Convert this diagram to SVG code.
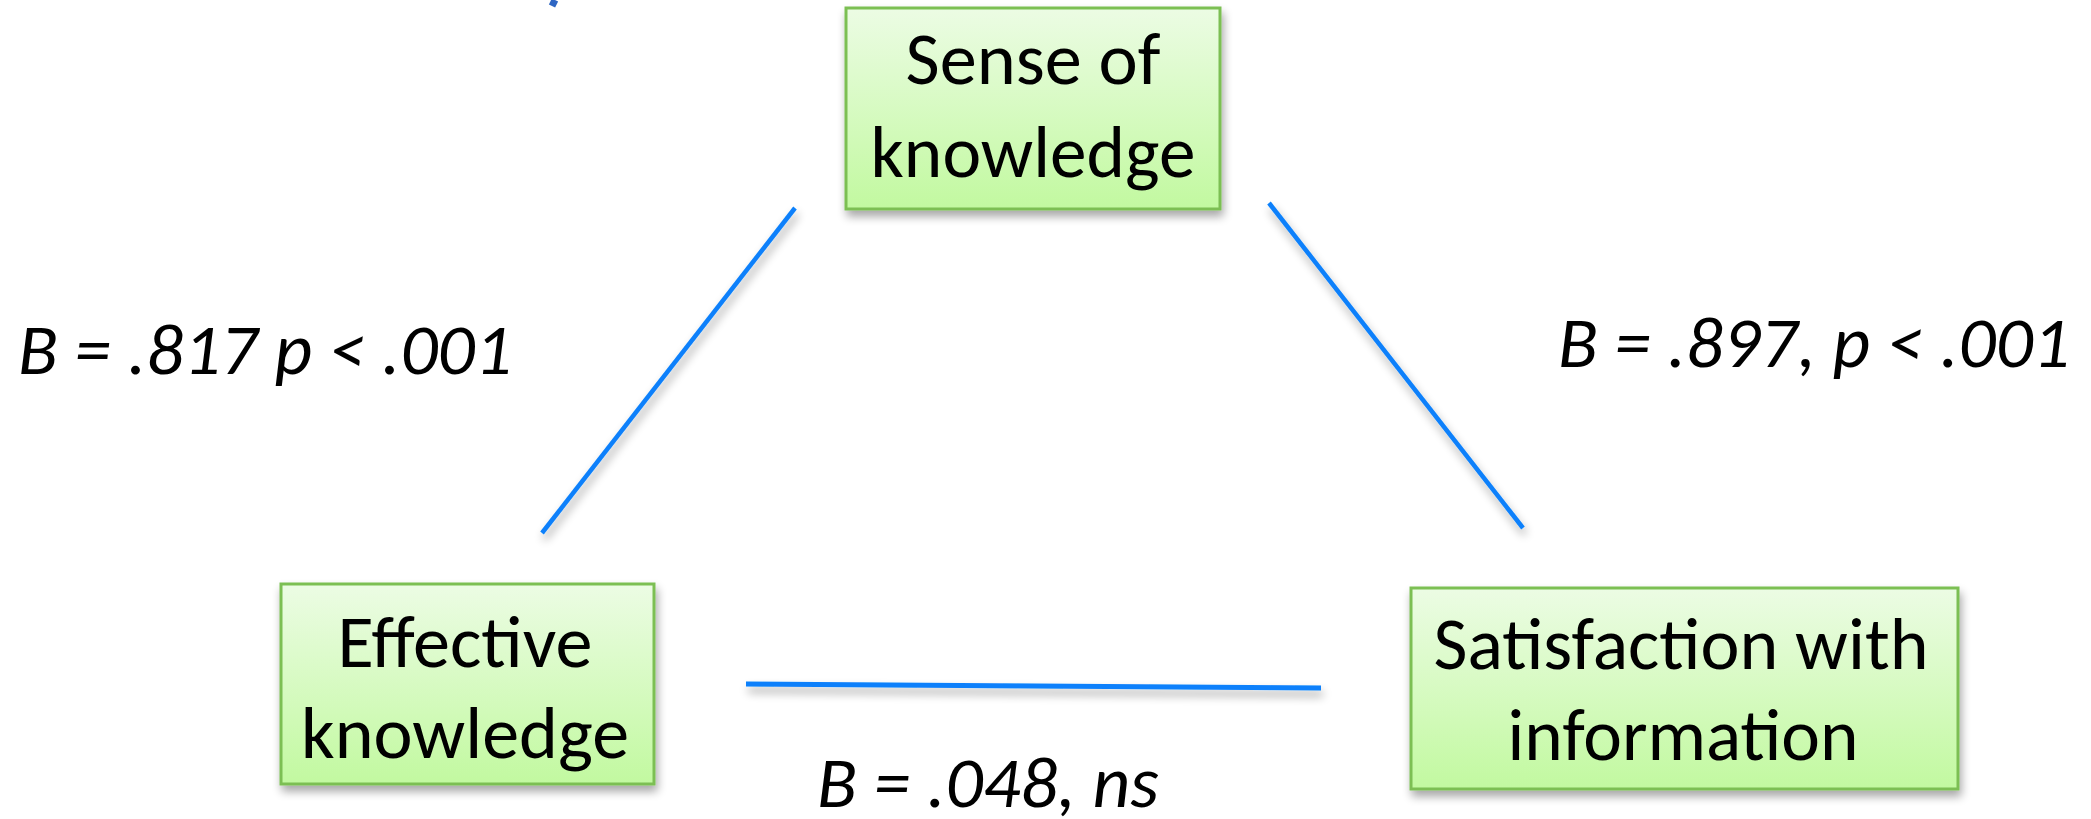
<svg xmlns="http://www.w3.org/2000/svg" width="2091" height="819" viewBox="0 0 2091 819">
<style>
.box{fill:url(#g);stroke:#7bbf53;stroke-width:3}
.bt{font-family:Carlito,"Liberation Sans",Arial,sans-serif;font-size:75px;fill:#000;text-anchor:middle}
.lb{font-family:Carlito,"Liberation Sans",Arial,sans-serif;font-size:72px;font-style:italic;fill:#000}
.ln{stroke:#0a80fb;stroke-linecap:butt;fill:none}
</style>
<defs>
<linearGradient id="g" x1="0" y1="0" x2="0" y2="1">
<stop offset="0" stop-color="#ecfce4"/>
<stop offset="1" stop-color="#c2f9a0"/>
</linearGradient>
<filter id="sh" x="-20%" y="-20%" width="140%" height="160%">
<feGaussianBlur in="SourceAlpha" stdDeviation="5"/>
<feOffset dx="2" dy="6" result="b"/>
<feComponentTransfer><feFuncA type="linear" slope="0.35"/></feComponentTransfer>
<feMerge><feMergeNode/><feMergeNode in="SourceGraphic"/></feMerge>
</filter>
</defs>
<rect width="2091" height="819" fill="#fff"/>
<line x1="552" y1="6" x2="555" y2="0" stroke="#2e66c3" stroke-width="7"/>
<g id="connectors" filter="url(#sh)">
<line class="ln" x1="795" y1="208" x2="542" y2="533" stroke-width="4.5"/>
<line class="ln" x1="1269" y1="203" x2="1523" y2="528" stroke-width="4.5"/>
<line class="ln" x1="746" y1="684" x2="1321" y2="688" stroke-width="5"/>
</g>
<g id="node-sense" filter="url(#sh)">
<rect class="box" x="846" y="8" width="374" height="201"/>
<text class="bt" x="1033" y="84" textLength="255" lengthAdjust="spacingAndGlyphs">Sense of</text>
<text class="bt" x="1033" y="177" textLength="325" lengthAdjust="spacingAndGlyphs">knowledge</text>
</g>
<g id="node-effective" filter="url(#sh)">
<rect class="box" x="281" y="584" width="373" height="200"/>
<text class="bt" x="465" y="667" textLength="255" lengthAdjust="spacingAndGlyphs">Effective</text>
<text class="bt" x="465" y="758" textLength="328" lengthAdjust="spacingAndGlyphs">knowledge</text>
</g>
<g id="node-satisfaction" filter="url(#sh)">
<rect class="box" x="1411" y="588" width="547" height="201"/>
<text class="bt" x="1681" y="669" textLength="495" lengthAdjust="spacingAndGlyphs">Satisfaction with</text>
<text class="bt" x="1683" y="760" textLength="351" lengthAdjust="spacingAndGlyphs">information</text>
</g>
<g id="labels">
<text class="lb" x="18" y="374" textLength="494" lengthAdjust="spacingAndGlyphs">B = .817 p &lt; .001</text>
<text class="lb" x="1558" y="367" textLength="512" lengthAdjust="spacingAndGlyphs">B = .897, p &lt; .001</text>
<text class="lb" x="817" y="807" textLength="342" lengthAdjust="spacingAndGlyphs">B = .048, ns</text>
</g>
</svg>
